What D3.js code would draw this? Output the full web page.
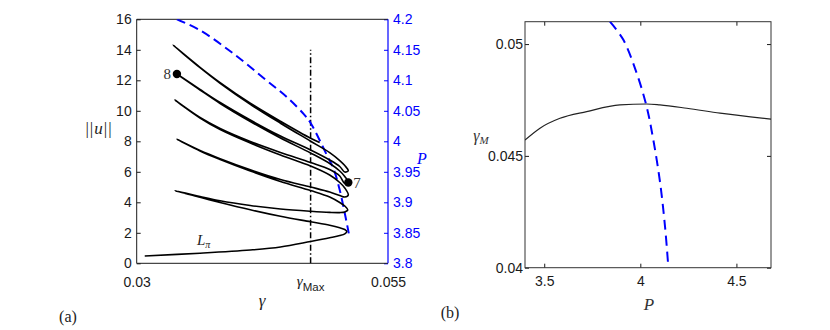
<!DOCTYPE html>
<html><head><meta charset="utf-8">
<script src="https://cdn.jsdelivr.net/npm/d3@7"></script>
<style>body{margin:0;background:#fff}</style>
</head><body>
<svg id="c" width="830" height="330"></svg>
<script>
// ---------- data ----------
const gammaMax = 0.0473;
const gammaTicks = [0.03, gammaMax, 0.055];
const gammaTickLabels = ["0.03", "", "0.055"];
const normTicks = [0, 2, 4, 6, 8, 10, 12, 14, 16];
const powerTicks = [3.8, 3.85, 3.9, 3.95, 4, 4.05, 4.1, 4.15, 4.2];
const powerTickLabels = ["3.8", "3.85", "3.9", "3.95", "4", "4.05", "4.1", "4.15", "4.2"];
const bPowerTicks = [3.5, 4, 4.5];
const bPowerTickLabels = ["3.5", "4", "4.5"];
const bGammaTicks = [0.04, 0.045, 0.05];
const bGammaTickLabels = ["0.04", "0.045", "0.05"];

// solution branch (gamma, ||u||), in order along the snake
const lPi     = [[0.0308,0.479],[0.0363,0.662],[0.0413,0.872],[0.0443,1.069],[0.0473,1.430],[0.0492,1.672],[0.0502,1.816],[0.0507,1.934],[0.0509,2.085]];
const branch1 = [[0.0507,2.216],[0.0502,2.328],[0.0492,2.492],[0.0473,2.721],[0.0443,3.082],[0.0413,3.508],[0.0383,3.987],[0.0363,4.328],[0.0338,4.761]];
const branch2 = [[0.0363,4.380],[0.0383,4.098],[0.0413,3.790],[0.0443,3.561],[0.0473,3.410],[0.0492,3.338],[0.0502,3.325],[0.0507,3.364],[0.0510,3.495]];
const branch3 = [[0.0507,3.757],[0.0502,3.987],[0.0492,4.348],[0.0473,4.774],[0.0443,5.364],[0.0413,6.052],[0.0383,6.807],[0.0363,7.364],[0.0340,8.131]];
const branch4 = [[0.0363,7.397],[0.0383,6.859],[0.0413,6.131],[0.0443,5.495],[0.0473,5.003],[0.0492,4.675],[0.0502,4.446],[0.0507,4.348],[0.05105,4.479]];
const branch5 = [[0.0507,4.938],[0.0502,5.298],[0.0492,5.790],[0.0473,6.380],[0.0443,7.102],[0.0413,7.889],[0.0383,8.774],[0.0363,9.528],[0.0338,10.708]];
const branch6 = [[0.0363,9.561],[0.0383,8.839],[0.0413,7.987],[0.0443,7.266],[0.0473,6.610],[0.0492,6.151],[0.0502,5.725],[0.0507,5.233],[0.05105,5.298]];
const branch7 = [[0.0507,5.692],[0.0502,6.052],[0.0492,6.544],[0.0473,7.233],[0.0443,8.216],[0.0413,9.298],[0.0383,10.479],[0.0363,11.364],[0.0340,12.413]];
const branch8 = [[0.0363,11.397],[0.0383,10.544],[0.0413,9.397],[0.0443,8.348],[0.0473,7.430],[0.0492,6.774],[0.0502,6.348],[0.0507,5.987],[0.05105,6.066]];
const branch9 = [[0.0507,6.407],[0.0502,6.734],[0.0492,7.259],[0.0473,8.007],[0.0443,9.187],[0.0413,10.426],[0.0383,11.803],[0.0363,12.826],[0.0336,14.315]];
const branch10= [[0.0363,12.852],[0.0383,11.849],[0.0413,10.498],[0.0443,9.311],[0.0473,8.197],[0.0482,7.921]];

const point7 = [0.05105, 5.30];
const point8 = [0.0340, 12.41];

// power P along the fold curve (gamma, P) - panel a, right axis
const powerCurveA = [[0.0340,4.200],[0.0363,4.182],[0.0396,4.144],[0.0429,4.100],[0.0449,4.073],[0.0466,4.045],[0.0473,4.030],[0.0489,3.978],[0.0496,3.954],[0.0502,3.920],[0.0507,3.882],[0.0511,3.849]];

// panel b: gamma_M vs P (solid), fold curve (dashed)
const gammaMCurve = [[3.40,0.04571],[3.478,0.04624],[3.582,0.04668],[3.721,0.04698],[3.894,0.04728],[4.033,0.04732],[4.102,0.04728],[4.242,0.04713],[4.415,0.04691],[4.68,0.04664]];
const foldCurveB  = [[3.842,0.0510],[3.911,0.0502],[3.981,0.0487],[4.033,0.0472],[4.068,0.0457],[4.103,0.0438],[4.129,0.0418],[4.146,0.0400]];

// ---------- drawing ----------
const svg = d3.select("#c");
svg.append("rect").attr("width",830).attr("height",330).attr("fill","#fff");
const SANS = "'Liberation Sans', Arial, sans-serif";
const SERIF = "'Liberation Serif', 'DejaVu Serif', serif";
const BLUE = "#0000ff";
const INK = "#1a1a1a";

// Panel a scales
const xa = d3.scaleLinear().domain([0.03, 0.055]).range([136.7, 388]);
const ya = d3.scaleLinear().domain([0, 16]).range([263.3, 19.3]);
const pa = d3.scaleLinear().domain([3.8, 4.2]).range([263.3, 19.3]);

svg.append("clipPath").attr("id","clipA").append("rect")
  .attr("x",136.7).attr("y",19.3).attr("width",388-136.7).attr("height",263.3-19.3);

function styleAxis(g, color){
  g.select(".domain").remove();
  g.selectAll(".tick line").attr("stroke", color).attr("stroke-width",1);
  g.selectAll(".tick text").attr("fill", color).style("font-family", SANS).style("font-size","14px");
}

const gl = svg.append("g").attr("transform","translate(136.7,0)")
  .call(d3.axisLeft(ya).tickValues(normTicks).tickFormat(d3.format("d")).tickSize(-4).tickPadding(5));
styleAxis(gl, INK);
const gr = svg.append("g").attr("transform","translate(388,0)")
  .call(d3.axisRight(pa).tickValues(powerTicks).tickFormat((d,i)=>powerTickLabels[i]).tickSize(-4).tickPadding(5));
styleAxis(gr, BLUE);
const gb = svg.append("g").attr("transform","translate(0,263.3)")
  .call(d3.axisBottom(xa).tickValues(gammaTicks).tickFormat((d,i)=>gammaTickLabels[i]).tickSize(0).tickPadding(14));
styleAxis(gb, INK);

svg.append("line").attr("x1",136.7).attr("x2",388).attr("y1",19.3).attr("y2",19.3).attr("stroke",INK).attr("stroke-width",1);
svg.append("line").attr("x1",136.7).attr("x2",388).attr("y1",263.3).attr("y2",263.3).attr("stroke",INK).attr("stroke-width",1);
svg.append("line").attr("x1",136.7).attr("x2",136.7).attr("y1",19.3).attr("y2",263.3).attr("stroke",INK).attr("stroke-width",1);
svg.append("line").attr("x1",388).attr("x2",388).attr("y1",19.3).attr("y2",263.3).attr("stroke",BLUE).attr("stroke-width",1.2);

const plotA = svg.append("g").attr("clip-path","url(#clipA)");

plotA.append("line")
  .attr("x1", xa(gammaMax)).attr("x2", xa(gammaMax))
  .attr("y1", ya(0)).attr("y2", ya(14))
  .attr("stroke","#000").attr("stroke-width",1.5).attr("stroke-dasharray","6,2.5,1.5,2.5");

plotA.append("path").datum(powerCurveA)
  .attr("d", d3.line().x(d=>xa(d[0])).y(d=>pa(d[1])).curve(d3.curveCatmullRom.alpha(0.5)))
  .attr("fill","none").attr("stroke",BLUE).attr("stroke-width",2).attr("stroke-dasharray","9,5");

const snake = [].concat(lPi, branch1, branch2, branch3, branch4, branch5, branch6, branch7, branch8, branch9, branch10);
plotA.append("path").datum(snake)
  .attr("d", d3.line().x(d=>xa(d[0])).y(d=>ya(d[1])).curve(d3.curveCatmullRom.alpha(0.5)))
  .attr("fill","none").attr("stroke","#000").attr("stroke-width",1.6).attr("stroke-linejoin","round");

[point7, point8].forEach(p=>{
  svg.append("circle").attr("cx",xa(p[0])).attr("cy",ya(p[1])).attr("r",4.2).attr("fill","#000");
});
svg.append("text").attr("x", xa(point8[0]) - 6).attr("y", ya(point8[1]) + 5)
  .attr("text-anchor","end").style("font-family",SERIF).style("font-size","15px").attr("fill","#333").text("8");
svg.append("text").attr("x", xa(point7[0]) + 5).attr("y", ya(point7[1]) + 6)
  .attr("text-anchor","start").style("font-family",SERIF).style("font-size","15px").attr("fill","#333").text("7");

const lp = svg.append("text").attr("x",197).attr("y",245).style("font-family",SERIF).style("font-size","15px").attr("fill","#222");
lp.append("tspan").style("font-style","italic").text("L");
lp.append("tspan").attr("dy",3).style("font-size","10px").style("font-style","italic").text("π");

const gm = svg.append("text").attr("x", xa(gammaMax)).attr("y", 286).attr("text-anchor","middle").attr("fill",INK);
gm.append("tspan").style("font-family",SERIF).style("font-style","italic").style("font-size","15px").text("γ");
gm.append("tspan").attr("dy",5).style("font-family",SANS).style("font-size","11.5px").text("Max");

svg.append("text").attr("x",262).attr("y",306).attr("text-anchor","middle")
  .style("font-family",SERIF).style("font-style","italic").style("font-size","17px").attr("fill","#222").text("γ");
const nl = svg.append("text").attr("x",99).attr("y",134).attr("text-anchor","middle")
  .style("font-family",SERIF).style("font-size","17px").style("letter-spacing","1px").attr("fill","#222");
nl.append("tspan").text("||");
nl.append("tspan").style("font-style","italic").text("u");
nl.append("tspan").text("||");
svg.append("text").attr("x",422).attr("y",164).attr("text-anchor","middle")
  .style("font-family",SERIF).style("font-style","italic").style("font-size","16px").attr("fill",BLUE).text("P");
svg.append("text").attr("x",68).attr("y",322).attr("text-anchor","middle")
  .style("font-family",SERIF).style("font-size","16px").attr("fill","#222").text("(a)");

// ---------- Panel b ----------
const xb = d3.scaleLinear().domain([3.4, 4.68]).range([525, 771]);
const yb = d3.scaleLinear().domain([0.04, 0.051]).range([267.7, 21.7]);

svg.append("clipPath").attr("id","clipB").append("rect")
  .attr("x",525).attr("y",21.7).attr("width",771-525).attr("height",267.7-21.7);

const bl = svg.append("g").attr("transform","translate(525,0)")
  .call(d3.axisLeft(yb).tickValues(bGammaTicks).tickFormat((d,i)=>bGammaTickLabels[i]).tickSize(-4).tickPadding(2));
styleAxis(bl, INK);
const br = svg.append("g").attr("transform","translate(771,0)")
  .call(d3.axisRight(yb).tickValues(bGammaTicks).tickFormat("").tickSize(-4));
styleAxis(br, INK);
const bb = svg.append("g").attr("transform","translate(0,267.7)")
  .call(d3.axisBottom(xb).tickValues(bPowerTicks).tickFormat((d,i)=>bPowerTickLabels[i]).tickSize(-4).tickPadding(8));
styleAxis(bb, INK);
const bt = svg.append("g").attr("transform","translate(0,21.7)")
  .call(d3.axisTop(xb).tickValues(bPowerTicks).tickFormat("").tickSize(-4));
styleAxis(bt, INK);
svg.append("rect").attr("x",525).attr("y",21.7).attr("width",771-525).attr("height",267.7-21.7)
  .attr("fill","none").attr("stroke","#333").attr("stroke-width",1);

const plotB = svg.append("g").attr("clip-path","url(#clipB)");
plotB.append("path").datum(gammaMCurve)
  .attr("d", d3.line().x(d=>xb(d[0])).y(d=>yb(d[1])).curve(d3.curveMonotoneX))
  .attr("fill","none").attr("stroke","#222").attr("stroke-width",1.2);
plotB.append("path").datum(foldCurveB)
  .attr("d", d3.line().x(d=>xb(d[0])).y(d=>yb(d[1])).curve(d3.curveCatmullRom.alpha(0.5)))
  .attr("fill","none").attr("stroke",BLUE).attr("stroke-width",2).attr("stroke-dasharray","10,6");

const gl2 = svg.append("text").attr("x",481).attr("y",141).attr("text-anchor","middle")
  .style("font-family",SERIF).style("font-size","16px").attr("fill","#333");
gl2.append("tspan").style("font-style","italic").text("γ");
gl2.append("tspan").attr("dy",3).style("font-style","italic").style("font-size","11px").text("M");
svg.append("text").attr("x",649).attr("y",310).attr("text-anchor","middle")
  .style("font-family",SERIF).style("font-style","italic").style("font-size","17px").attr("fill","#333").text("P");
svg.append("text").attr("x",450).attr("y",318).attr("text-anchor","middle")
  .style("font-family",SERIF).style("font-size","16px").attr("fill","#222").text("(b)");
</script>
</body></html>
